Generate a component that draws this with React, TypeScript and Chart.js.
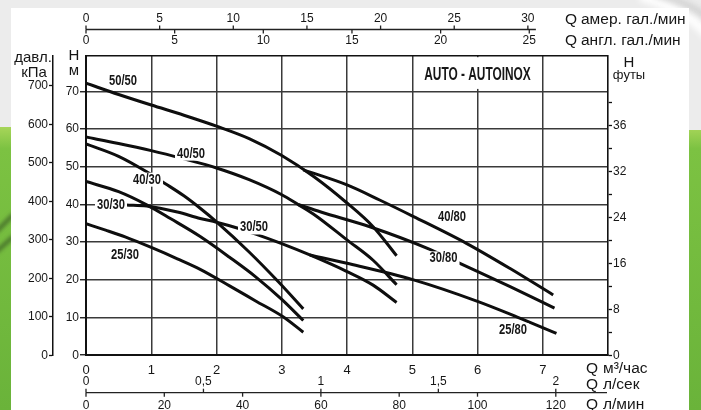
import React, { useEffect, useRef } from 'react';
import { Chart, registerables } from 'chart.js';

Chart.register(...registerables);

// ---- pump curves: flow Q (m³/h) and head H (m) ----
const q5050 = [0, 0.5, 1, 1.5, 2, 2.5, 3, 3.5, 4, 4.4, 4.76];
const h5050 = [72.2, 69.2, 66.4, 63.7, 60.8, 57.5, 53.0, 47.3, 40.4, 34.1, 26.4];

const q4050 = [0, 0.5, 1, 1.5, 2, 2.5, 3, 3.25, 3.5, 4, 4.4, 4.76];
const h4050 = [57.9, 56.2, 54.3, 52.1, 49.7, 46.6, 42.6, 40.0, 37.3, 30.6, 25.2, 18.7];

const q4030 = [0, 0.5, 0.93, 1.21, 1.5, 1.75, 2.0, 2.5, 2.97, 3.33];
const h4030 = [56.1, 52.8, 48.7, 45.6, 42.3, 39.0, 35.4, 27.4, 19.1, 12.3];

const q3030 = [0, 0.5, 0.93, 1.3, 1.75, 2.2, 2.6, 3.0, 3.33];
const h3030 = [46.1, 43.4, 39.9, 36.2, 31.5, 26.0, 20.8, 14.8, 9.2];

const q3050 = [0.62, 0.93, 1.4, 1.75, 2.0, 2.33, 2.59, 3.0, 3.43, 4.0, 4.4, 4.76];
const h3050 = [39.9, 39.6, 38.0, 36.3, 35.3, 33.7, 32.2, 29.6, 26.6, 22.2, 18.6, 14.0];

const q2530 = [0, 0.3, 0.6, 1.0, 1.4, 1.75, 2.2, 2.6, 3.02, 3.33];
const h2530 = [34.9, 33.2, 31.4, 28.6, 25.6, 22.8, 18.4, 14.4, 10.2, 6.1];

const q4080 = [3.33, 4.0, 4.5, 5.02, 5.83, 6.5, 7.16];
const h4080 = [49.2, 45.2, 41.2, 36.8, 29.7, 23.0, 16.0];

const q3080 = [3.25, 3.6, 4.35, 5.27, 5.73, 6.5, 7.18];
const h3080 = [40.0, 38.0, 34.1, 28.1, 24.4, 18.2, 12.5];

const q2580 = [3.43, 4.0, 5.02, 6.0, 6.6, 7.21];
const h2580 = [26.6, 24.4, 20.0, 14.3, 10.2, 5.8];

const curveNames = ['50/50', '40/50', '40/30', '30/30', '30/50', '25/30', '40/80', '30/80', '25/80'];
const curveQ = [q5050, q4050, q4030, q3030, q3050, q2530, q4080, q3080, q2580];
const curveH = [h5050, h4050, h4030, h3030, h3050, h2530, h4080, h3080, h2580];

// label anchors in chart units (Q m³/h, H m)
const labelQ = [0.567, 1.609, 0.935, 0.383, 2.575, 0.598, 5.609, 5.479, 6.544];
const labelH = [72.8, 53.5, 46.6, 39.9, 33.9, 26.6, 36.55, 25.7, 6.56];

// ---- axes ----
const flowMax = 8;
const headMax = 79.5;
const headTicksMax = 70;
const flowTicksMax = 7;

const KPA_PER_M = 9.795;
const FT_PER_M = 3.2808;
const feetTickValues = [40, 80, 120, 160, 200];
const feetTickLabels = ['8', '16', '24', '32', '36'];
const feetTickTop = 220;

const usGpmTicks = [0, 5, 10, 15, 20, 25, 30];
const ukGpmTicks = [0, 5, 10, 15, 20, 25];
const US_GPM_PER_M3H = 4.43;
const UK_GPM_PER_M3H = 3.68;

const lsTicks = [0, 0.5, 1, 1.5, 2];
const lsTickLabels = ['0', '0,5', '1', '1,5', '2'];
const lminTicks = [0, 20, 40, 60, 80, 100, 120];
const LS_PER_M3H = 1 / 3.6;
const LMIN_PER_M3H = 1000 / 60;

const title = 'AUTO - AUTOINOX';
const titleQ = 6;
const titleH = 74.4;

const FONT = '"Liberation Sans", Arial, sans-serif';
const INK = '#161616';

Chart.defaults.font.family = FONT;
Chart.defaults.color = INK;

function condensedText(ctx: CanvasRenderingContext2D, text: string, x: number, y: number, font: string, squeeze: number, bg: boolean) {
  ctx.save();
  ctx.font = font;
  const w = ctx.measureText(text).width * squeeze;
  if (bg) {
    ctx.fillStyle = '#ffffff';
    ctx.fillRect(x - w / 2 - 2, y - 7, w + 4, 14);
  }
  ctx.translate(x, y);
  ctx.scale(squeeze, 1);
  ctx.fillStyle = INK;
  ctx.textAlign = 'center';
  ctx.textBaseline = 'middle';
  ctx.fillText(text, 0, 0);
  ctx.restore();
}

function flowAxis(
  ctx: CanvasRenderingContext2D,
  xs: any,
  y: number,
  xEnd: number,
  upVals: number[], upLabels: string[], upFactor: number, upOff: number,
  dnVals: number[], dnLabels: string[], dnFactor: number, dnOff: number,
) {
  ctx.save();
  ctx.strokeStyle = '#222';
  ctx.lineWidth = 1.3;
  const x0 = xs.getPixelForValue(0);
  ctx.beginPath();
  ctx.moveTo(x0, y);
  ctx.lineTo(xEnd, y);
  ctx.stroke();
  ctx.font = '12px ' + FONT;
  ctx.fillStyle = INK;
  ctx.textAlign = 'center';
  ctx.textBaseline = 'middle';
  upVals.forEach((v, i) => {
    const px = xs.getPixelForValue(v / upFactor);
    ctx.beginPath();
    ctx.moveTo(px, y - 4);
    ctx.lineTo(px, y);
    ctx.stroke();
    ctx.fillText(upLabels[i], px, y - upOff);
  });
  dnVals.forEach((v, i) => {
    const px = xs.getPixelForValue(v / dnFactor);
    ctx.beginPath();
    ctx.moveTo(px, y);
    ctx.lineTo(px, y + 4);
    ctx.stroke();
    ctx.fillText(dnLabels[i], px, y + dnOff);
  });
  ctx.restore();
}

function unitText(ctx: CanvasRenderingContext2D, q: string, unit: string, xq: number, xu: number, y: number) {
  ctx.save();
  ctx.font = '15.5px ' + FONT;
  ctx.fillStyle = INK;
  ctx.textAlign = 'left';
  ctx.textBaseline = 'middle';
  ctx.fillText(q, xq, y);
  ctx.fillText(unit, xu, y);
  ctx.restore();
}

const decor = {
  id: 'decor',
  beforeDraw(chart: any) {
    const ctx: CanvasRenderingContext2D = chart.ctx;
    const W = chart.width;
    const Hh = chart.height;
    ctx.save();
    ctx.fillStyle = '#ececec';
    ctx.fillRect(0, 0, W, Hh);
    // soft light swoosh in the top corner
    ctx.save();
    ctx.filter = 'blur(3px)';
    ctx.strokeStyle = 'rgba(255,255,255,0.95)';
    ctx.lineWidth = 10;
    ctx.beginPath();
    ctx.moveTo(640, -4);
    ctx.quadraticCurveTo(690, 10, 712, 40);
    ctx.stroke();
    ctx.strokeStyle = 'rgba(190,190,190,0.7)';
    ctx.lineWidth = 5;
    ctx.beginPath();
    ctx.moveTo(655, -6);
    ctx.quadraticCurveTo(695, 4, 712, 22);
    ctx.stroke();
    ctx.restore();
    // green side bands
    const gl = ctx.createLinearGradient(0, 126, 0, Hh);
    gl.addColorStop(0, '#a9d65a');
    gl.addColorStop(0.08, '#7cc242');
    gl.addColorStop(1, '#6ab33a');
    ctx.fillStyle = gl;
    ctx.fillRect(0, 127, 12, Hh - 127);
    ctx.fillRect(689, 130, W - 689, Hh - 130);
    // dark blurred streaks in the left band
    ctx.save();
    ctx.beginPath();
    ctx.rect(0, 127, 11, Hh - 127);
    ctx.clip();
    ctx.filter = 'blur(2px)';
    ctx.strokeStyle = 'rgba(30,45,25,0.75)';
    ctx.lineWidth = 3;
    ctx.beginPath();
    ctx.moveTo(-4, 232);
    ctx.lineTo(14, 214);
    ctx.moveTo(-4, 252);
    ctx.lineTo(14, 236);
    ctx.stroke();
    ctx.restore();
    // white panel
    ctx.fillStyle = '#ffffff';
    ctx.fillRect(11, 8, 678, Hh - 8);
    ctx.restore();
  },
  beforeDatasetsDraw(chart: any) {
    const ctx: CanvasRenderingContext2D = chart.ctx;
    const xs = chart.scales.x;
    const ys = chart.scales.y;
    const a = chart.chartArea;
    ctx.save();
    // frame top edge
    ctx.strokeStyle = '#111';
    ctx.lineWidth = 1.6;
    ctx.beginPath();
    ctx.moveTo(a.left, a.top);
    ctx.lineTo(a.right, a.top);
    ctx.stroke();
    // title cell
    const tx = xs.getPixelForValue(titleQ);
    const ty = ys.getPixelForValue(titleH);
    ctx.fillStyle = '#ffffff';
    ctx.fillRect(tx - 60, a.top + 1.5, 120, ty - a.top + 14 - 1.5);
    ctx.restore();
    condensedText(ctx, title, tx, ty, 'bold 18px ' + FONT, 0.66, false);
  },
  afterDatasetsDraw(chart: any) {
    const ctx: CanvasRenderingContext2D = chart.ctx;
    const xs = chart.scales.x;
    const ys = chart.scales.y;
    const a = chart.chartArea;

    curveNames.forEach((n, i) => {
      condensedText(ctx, n, xs.getPixelForValue(labelQ[i]), ys.getPixelForValue(labelH[i]), 'bold 14px ' + FONT, 0.8, true);
    });

    // top flow scales: US and imperial gallons per minute
    const usLabels = usGpmTicks.map(String);
    const ukLabels = ukGpmTicks.map(String);
    const topEnd = xs.getPixelForValue(usGpmTicks[usGpmTicks.length - 1] / US_GPM_PER_M3H) + 8;
    flowAxis(ctx, xs, 29.5, topEnd, usGpmTicks, usLabels, US_GPM_PER_M3H, 10.5, ukGpmTicks, ukLabels, UK_GPM_PER_M3H, 10.8);

    // bottom flow scales: litres per second and per minute
    const lminLabels = lminTicks.map(String);
    flowAxis(ctx, xs, 392.7, a.right - 1, lsTicks, lsTickLabels, LS_PER_M3H, 11, lminTicks, lminLabels, LMIN_PER_M3H, 12.5);

    unitText(ctx, 'Q', 'амер. гал./мин', 565, 581, 19.5);
    unitText(ctx, 'Q', 'англ. гал./мин', 565, 581, 40.5);
    unitText(ctx, 'Q', 'м³/час', 586, 603, 369);
    unitText(ctx, 'Q', 'л/сек', 586, 603, 385);
    unitText(ctx, 'Q', 'л/мин', 586, 603, 405);

    // axis titles
    ctx.save();
    ctx.font = '15px ' + FONT;
    ctx.fillStyle = INK;
    ctx.textAlign = 'center';
    ctx.textBaseline = 'middle';
    ctx.fillText('давл.', 33, 58);
    ctx.fillText('кПа', 34, 72.5);
    ctx.fillText('H', 74, 55.5);
    ctx.fillText('м', 74, 71);
    ctx.fillText('H', 629, 63);
    ctx.font = '13px ' + FONT;
    ctx.fillText('футы', 629, 75);
    ctx.restore();
  },
};

export default function App() {
  const ref = useRef<HTMLCanvasElement>(null);

  useEffect(() => {
    const datasets = curveNames.map((name, i) => ({
      label: name,
      data: curveQ[i].map((q, j) => ({ x: q, y: curveH[i][j] })),
      borderColor: '#0e0e0e',
      borderWidth: 3,
      pointRadius: 0,
      fill: false,
      cubicInterpolationMode: 'monotone' as const,
    }));

    const chart = new Chart(ref.current as HTMLCanvasElement, {
      type: 'line',
      data: { datasets },
      options: {
        responsive: false,
        devicePixelRatio: 1,
        animation: false,
        events: [],
        layout: { padding: { top: 55.7, left: 0, right: 0, bottom: 0 } },
        plugins: { legend: { display: false }, tooltip: { enabled: false } },
        scales: {
          x: {
            type: 'linear',
            position: 'bottom',
            min: 0,
            max: flowMax,
            afterBuildTicks: (s: any) => { s.ticks = s.ticks.filter((t: any) => t.value <= flowTicksMax); },
            afterFit: (s: any) => { s.height = 410 - 355.2; },
            ticks: { stepSize: 1, padding: 7, font: { size: 13 }, color: INK, autoSkip: false, maxRotation: 0 },
            grid: { color: '#3a3a3a', lineWidth: 1.5, drawTicks: false },
            border: { color: '#111', width: 2 },
          },
          y: {
            type: 'linear',
            position: 'left',
            weight: 0,
            min: 0,
            max: headMax,
            afterBuildTicks: (s: any) => { s.ticks = s.ticks.filter((t: any) => t.value <= headTicksMax); },
            afterFit: (s: any) => { s.width = 33; },
            ticks: { stepSize: 10, padding: 1, font: { size: 12 }, color: INK, autoSkip: false },
            grid: { color: '#3a3a3a', lineWidth: 1.5, tickLength: 6, tickColor: '#111', tickWidth: 1.3 },
            border: { color: '#111', width: 2 },
          },
          kpa: {
            type: 'linear',
            position: 'left',
            weight: 1,
            min: 0,
            max: headMax * KPA_PER_M,
            afterBuildTicks: (s: any) => { s.ticks = s.ticks.filter((t: any) => t.value % 100 === 0); },
            afterFit: (s: any) => { s.width = 53; },
            ticks: { stepSize: 100, padding: 1, font: { size: 12 }, color: INK, autoSkip: false },
            grid: { drawOnChartArea: false, tickLength: 4, tickColor: '#111', tickWidth: 1.3 },
            border: { color: '#111', width: 1.5 },
          },
          ft: {
            type: 'linear',
            position: 'right',
            min: 0,
            max: headMax * FT_PER_M,
            afterBuildTicks: (s: any) => { s.ticks = s.ticks.filter((t: any) => t.value <= feetTickTop && t.value % 20 === 0); },
            afterFit: (s: any) => { s.width = 93; },
            ticks: {
              stepSize: 20,
              padding: 1,
              font: { size: 12 },
              color: INK,
              autoSkip: false,
              callback: (v: any) => {
                if (v === 0) return '0';
                const k = feetTickValues.indexOf(v);
                return k >= 0 ? feetTickLabels[k] : '';
              },
            },
            grid: { drawOnChartArea: false, tickLength: 4, tickColor: '#111', tickWidth: 1.3 },
            border: { color: '#111', width: 1.6 },
          },
        },
      },
      plugins: [decor],
    } as any);

    return () => chart.destroy();
  }, []);

  return (
    <div style={{ position: 'absolute', left: 0, top: 0, width: 701, height: 410 }}>
      <canvas ref={ref} width={701} height={410} style={{ display: 'block' }} />
    </div>
  );
}
